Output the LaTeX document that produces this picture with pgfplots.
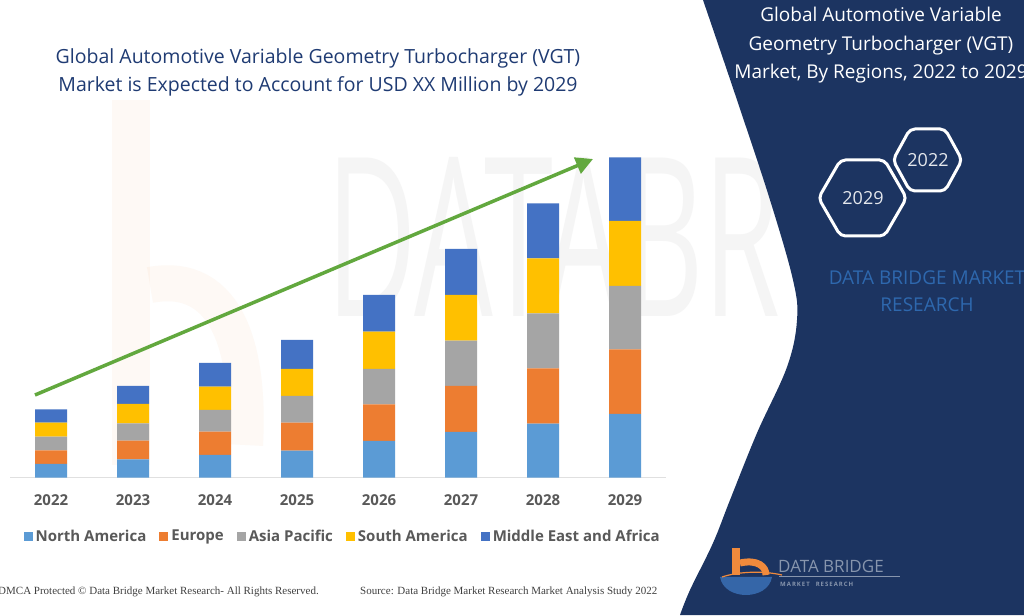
\documentclass[border=0pt]{standalone}
\usepackage{fontspec}
\setmainfont{Open Sans}
\newfontfamily\tnr{Liberation Serif}
\usepackage{pgfplots}
\pgfplotsset{compat=1.18}
\usetikzlibrary{arrows.meta}
\definecolor{navy}{HTML}{1C3461}
\definecolor{titleblue}{HTML}{1F3B73}
\definecolor{labgray}{HTML}{595959}
\definecolor{linegray}{HTML}{E0E0E0}
\definecolor{cNA}{HTML}{5B9BD5}
\definecolor{cEU}{HTML}{ED7D31}
\definecolor{cAP}{HTML}{A5A5A5}
\definecolor{cSA}{HTML}{FFC000}
\definecolor{cME}{HTML}{4472C4}
\definecolor{arrowgreen}{HTML}{62A83E}
\definecolor{dbmblue}{HTML}{2E68AE}
\definecolor{logoorange}{HTML}{F08A3C}
\definecolor{logoblue}{HTML}{3566A8}
\definecolor{logogray}{HTML}{8795AD}
\def\navypath{plot[smooth, tension=0.6] coordinates {(703,615) (737,515) (770,415) (793,335) (797,295) (787,248) (757,182) (730,115) (713,72) (690,25) (680,0)} -- (1024,0) -- (1024,615) -- cycle}
\begin{document}
\begin{tikzpicture}[x=1pt,y=1pt]
\clip (0,0) rectangle (1024,615);
\fill[white] (0,0) rectangle (1024,615);
% faint watermarks on white
\fill[logoorange, opacity=0.05] (112,150) rectangle (150,515);
\draw[logoorange, opacity=0.05, line width=36pt] (150,330) .. controls (230,345) and (250,260) .. (245,170);
\node[font=\fontsize{222}{222}\selectfont, text=black!4, anchor=south west, inner sep=0, xscale=0.56] at (326,298) {DATABR};
% navy panel
\fill[navy] \navypath;
% left title
\node[font=\fontsize{19.5}{28}\selectfont, text=titleblue, align=center] at (318,543) {Global Automotive Variable Geometry Turbocharger (VGT)\\Market is Expected to Account for USD XX Million by 2029};
% right title
\node[font=\fontsize{19}{28.5}\selectfont, text=white, align=center] at (881,569.5) {Global Automotive Variable\\Geometry Turbocharger (VGT)\\Market, By Regions, 2022 to 2029};
% hexagons
\draw[white, line width=3pt, rounded corners=5pt] (906.5,417) -- (884.5,455) -- (840.5,455) -- (818.5,417) -- (840.5,379) -- (884.5,379) -- cycle;
\draw[white, line width=3pt, rounded corners=5pt] (962,455) -- (945,486) -- (910,486) -- (893,455) -- (910,424) -- (945,424) -- cycle;
\node[font=\fontsize{18}{20}\selectfont, text=white!88!navy] at (863,417) {2029};
\node[font=\fontsize{18}{20}\selectfont, text=white!88!navy] at (928,455) {2022};
\node[font=\fontsize{19}{27}\selectfont, text=dbmblue, align=center] at (927,323.5) {DATA BRIDGE MARKET\\RESEARCH};
% chart
\begin{axis}[at={(10pt,137.3pt)}, anchor=south west, scale only axis,
  width=656pt, height=330pt, xmin=-0.5, xmax=7.5, ymin=0, ymax=330,
  ybar stacked, bar width=32pt,
  axis x line*=bottom, axis y line=none,
  x axis line style={draw=linegray, line width=1pt, -},
  xtick={0,...,7}, xticklabels={2022,2023,2024,2025,2026,2027,2028,2029},
  major tick length=0pt,
  xticklabel style={font=\fontsize{15}{18}\selectfont\bfseries, text=labgray, anchor=center, yshift=-22.5pt},
  ytick=\empty,
  legend columns=-1,
  legend style={at={(0.016,-0.177)}, anchor=west, draw=none, fill=none,
    font=\fontsize{15}{18}\selectfont\bfseries, text=labgray,
    /tikz/every even column/.append style={column sep=11pt},
    /tikz/every odd column/.append style={column sep=1pt}},
  legend image code/.code={\fill[#1] (0pt,-4.5pt) rectangle (9pt,4.5pt);},
]
\addplot[fill=cNA, draw=none] coordinates {(0,13.7) (1,18.4) (2,22.7) (3,27.0) (4,36.7) (5,45.7) (6,54.0) (7,63.7)};
\addplot[fill=cEU, draw=none] coordinates {(0,13.7) (1,18.6) (2,23.3) (3,28.0) (4,36.7) (5,46.0) (6,55.3) (7,64.7)};
\addplot[fill=cAP, draw=none] coordinates {(0,13.6) (1,17.4) (2,21.7) (3,26.7) (4,35.3) (5,45.3) (6,55.0) (7,63.3)};
\addplot[fill=cSA, draw=none] coordinates {(0,14.0) (1,19.3) (2,23.3) (3,27.0) (4,37.3) (5,45.7) (6,55.0) (7,65.0)};
\addplot[fill=cME, draw=none] coordinates {(0,13.4) (1,18.0) (2,23.7) (3,29.0) (4,36.7) (5,46.0) (6,55.0) (7,63.7)};
\legend{North America, Europe, Asia Pacific, South America, Middle East and Africa}
\end{axis}
% arrow
\draw[arrowgreen, line width=3.5pt, -{Triangle[length=17pt,width=17pt]}] (35,220) -- (593,456);
% footer
\node[font=\tnr\fontsize{11}{13}\selectfont, text=black!75, anchor=west, inner sep=0] at (-2,23) {DMCA Protected \textcopyright\ Data Bridge Market Research- All Rights Reserved.};
\node[font=\tnr\fontsize{11}{13}\selectfont, text=black!75, anchor=west, inner sep=0] at (360,23) {Source: Data Bridge Market Research Market Analysis Study 2022};
% logo
\fill[logoblue] (720,38) .. controls (724,14) and (768,14) .. (772,38) -- cycle;
\fill[logoorange] (732,40) rectangle (740,67);
\draw[logoorange, line width=7pt] (740,52) .. controls (758,56) and (766,48) .. (766,40);
\draw[logoorange, line width=1.2pt] (722,38) .. controls (740,44) and (765,44) .. (782,40);
\node[font=\fontsize{17}{20}\selectfont, text=logogray, anchor=west, inner sep=0] at (778,49) {DATA BRIDGE};
\draw[logogray, line width=0.6pt] (779,38.5) -- (900,38.5);
\node[font=\fontsize{6}{7}\selectfont\bfseries, text=logogray, anchor=west, inner sep=0] at (780,31) {M\,A\,R\,K\,E\,T\quad R\,E\,S\,E\,A\,R\,C\,H};
\end{tikzpicture}
\end{document}
